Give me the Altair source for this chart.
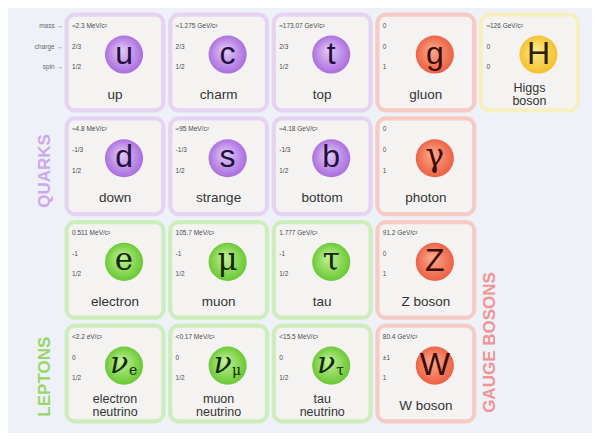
import altair as alt
import pandas as pd

# ---- data ----
names = ["up", "charm", "top", "gluon", "Higgs\nboson",
         "down", "strange", "bottom", "photon",
         "electron", "muon", "tau", "Z boson",
         "electron\nneutrino", "muon\nneutrino", "tau\nneutrino", "W boson"]
symbols = ["u", "c", "t", "g", "H",
           "d", "s", "b", "γ",
           "e", "μ", "τ", "Z",
           "ν", "ν", "ν", "W"]
subscripts = ["", "", "", "", "",
              "", "", "", "",
              "", "", "", "",
              "e", "μ", "τ", ""]
masses = ["≈2.3 MeV/c²", "≈1.275 GeV/c²", "≈173.07 GeV/c²", "0", "≈126 GeV/c²",
          "≈4.8 MeV/c²", "≈95 MeV/c²", "≈4.18 GeV/c²", "0",
          "0.511 MeV/c²", "105.7 MeV/c²", "1.777 GeV/c²", "91.2 GeV/c²",
          "<2.2 eV/c²", "<0.17 MeV/c²", "<15.5 MeV/c²", "80.4 GeV/c²"]
charges = ["2/3", "2/3", "2/3", "0", "0",
           "-1/3", "-1/3", "-1/3", "0",
           "-1", "-1", "-1", "0",
           "0", "0", "0", "±1"]
spins = ["1/2", "1/2", "1/2", "1", "0",
         "1/2", "1/2", "1/2", "1",
         "1/2", "1/2", "1/2", "1",
         "1/2", "1/2", "1/2", "1"]
groups = ["quark", "quark", "quark", "gauge", "higgs",
          "quark", "quark", "quark", "gauge",
          "lepton", "lepton", "lepton", "gauge",
          "lepton", "lepton", "lepton", "gauge"]
serif = [False, False, False, False, False,
         False, False, False, True,
         True, True, True, False,
         True, True, True, False]
cols = [1, 2, 3, 4, 5, 1, 2, 3, 4, 1, 2, 3, 4, 1, 2, 3, 4]
rows = [1, 1, 1, 1, 1, 2, 2, 2, 2, 3, 3, 3, 3, 4, 4, 4, 4]

row_labels = ["mass →", "charge →", "spin →"]
family_labels = ["QUARKS", "LEPTONS", "GAUGE BOSONS"]
family_cols = [0.324, 0.324, 4.62]
family_rows = [2.046, 4.03, 3.70]

df = pd.DataFrame({
    "name": names, "symbol": symbols, "sub": subscripts, "mass": masses,
    "charge": charges, "spin": spins, "group": groups, "serif": serif,
    "col": cols, "row": rows,
})

# ---- styles ----
GROUPS = ["quark", "lepton", "gauge", "higgs"]
BORDER = ["#d7bdea", "#a9dc8b", "#eea198", "#f1e394"]
GLOW = ["#e6d3f3", "#cdeebc", "#f6cbc5", "#f7efc0"]
GRAD = {
    "quark": ("#e3cdf7", "#a565dc"),
    "lepton": ("#c4f29a", "#62c52a"),
    "gauge": ("#fbab90", "#ec5a3c"),
    "higgs": ("#fde98a", "#f2be25"),
}
SYMCOL = {"quark": "#24103e", "lepton": "#14280a", "gauge": "#3a0c06", "higgs": "#2b2005"}

xs = alt.Scale(domain=[-0.033, 5.604], nice=False, zero=False)
ys = alt.Scale(domain=[0.474, 4.573], nice=False, zero=False, reverse=True)
X = alt.X("col:Q", scale=xs, axis=None)
Y = alt.Y("row:Q", scale=ys, axis=None)

base = alt.Chart(df)

card_base = base.transform_calculate(
    x1="datum.col - 0.4585", x2="datum.col + 0.4585",
    y1="datum.row - 0.453", y2="datum.row + 0.453",
).encode(
    x=alt.X("x1:Q", scale=xs, axis=None), x2="x2:Q",
    y=alt.Y("y1:Q", scale=ys, axis=None), y2="y2:Q",
)
glow = card_base.mark_rect(cornerRadius=8, strokeWidth=6, fillOpacity=0).encode(
    stroke=alt.Stroke("group:N", scale=alt.Scale(domain=GROUPS, range=GLOW), legend=None)
)
cards = card_base.mark_rect(cornerRadius=7, strokeWidth=2.5, fill="#f4f3f2").encode(
    stroke=alt.Stroke("group:N", scale=alt.Scale(domain=GROUPS, range=BORDER), legend=None)
)

layers = [glow, cards]

for g in GROUPS:
    light, dark = GRAD[g]
    grad = {"gradient": "radial",
            "stops": [{"offset": 0, "color": light}, {"offset": 1, "color": dark}],
            "x1": 0.42, "y1": 0.38, "r1": 0.0, "x2": 0.5, "y2": 0.5, "r2": 0.55}
    circ = base.transform_filter(alt.datum.group == g).mark_circle(
        size=1450, opacity=1, color=grad, xOffset=9, yOffset=-8
    ).encode(x=X, y=Y)
    layers.append(circ)
    for is_serif, font, fs in [(False, "Liberation Sans", 32), (True, "DejaVu Serif", 31)]:
        sym = base.transform_filter(
            (alt.datum.group == g) & (alt.datum.serif == is_serif) & (alt.datum.sub == "")
        ).mark_text(font=font, fontSize=fs, color=SYMCOL[g], dx=9, dy=-9,
                    baseline="middle", align="center").encode(x=X, y=Y, text="symbol:N")
        layers.append(sym)

# neutrinos: nu with subscript
nu = base.transform_filter(alt.datum.sub != "").mark_text(
    font="DejaVu Serif", fontSize=30, fontStyle="italic", color=SYMCOL["lepton"],
    dx=4, dy=-10, baseline="middle", align="center"
).encode(x=X, y=Y, text="symbol:N")
sub = base.transform_filter(alt.datum.sub != "").mark_text(
    font="DejaVu Serif", fontSize=14, color=SYMCOL["lepton"],
    dx=18, dy=-3, baseline="middle", align="center"
).encode(x=X, y=Y, text="sub:N")
layers += [nu, sub]

# names (single line and two-line)
one_line = base.transform_filter("indexof(datum.name, '\\n') < 0").mark_text(
    font="Liberation Sans", fontSize=13.5, color="#333333", dy=32,
    baseline="middle", align="center"
).encode(x=X, y=Y, text="name:N")
two_line = base.transform_filter("indexof(datum.name, '\\n') >= 0").mark_text(
    font="Liberation Sans", fontSize=12.5, color="#333333", dy=25,
    lineBreak="\n", lineHeight=13, baseline="middle", align="center"
).encode(x=X, y=Y, text="name:N")
layers += [one_line, two_line]

# mass / charge / spin values
for field, dy in [("mass", -37), ("charge", -16), ("spin", 4.5)]:
    layers.append(base.mark_text(
        font="Liberation Sans", fontSize=6.5, color="#4a4a4a", dx=-43, dy=dy,
        align="left", baseline="middle"
    ).encode(x=X, y=Y, text=f"{field}:N"))

# row labels at left of first card
lab_df = pd.DataFrame({"label": row_labels, "col": [1] * 3, "row": [1] * 3,
                       "k": [0, 1, 2]})
for k, dy in enumerate([-37, -16, 4.5]):
    layers.append(alt.Chart(lab_df).transform_filter(alt.datum.k == k).mark_text(
        font="Liberation Sans", fontSize=6.5, color="#6a6a6a", dx=-52, dy=dy,
        align="right", baseline="middle"
    ).encode(x=X, y=Y, text="label:N"))

# family labels
fam_df = pd.DataFrame({"label": family_labels, "col": family_cols, "row": family_rows})
layers.append(alt.Chart(fam_df).mark_text(
    font="Liberation Sans", fontSize=17, fontWeight="bold", angle=270,
    align="center", baseline="middle", opacity=0.9
).encode(
    x=X, y=Y, text="label:N",
    color=alt.Color("label:N", scale=alt.Scale(domain=family_labels,
                    range=["#c9a2e6", "#8fd458", "#f28a88"]), legend=None)
))

chart = alt.layer(*layers).properties(
    width=584, height=425, padding=0, autosize="none", background="#eef1f7"
).configure_view(stroke=None)

chart.save("out.html", embed_options={"renderer": "svg", "actions": False})
